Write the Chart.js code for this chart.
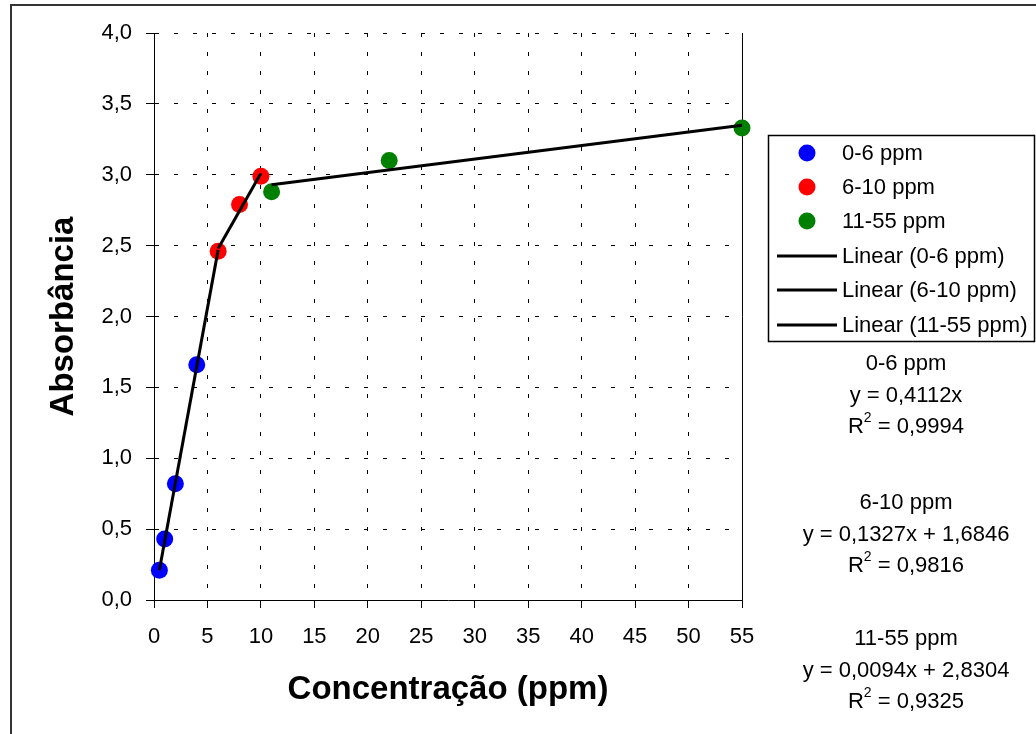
<!DOCTYPE html>
<html>
<head>
<meta charset="utf-8">
<script src="https://cdn.jsdelivr.net/npm/chart.js@4.4.0/dist/chart.umd.min.js"></script>
<style>
  html, body { margin: 0; padding: 0; background: #fff; }
</style>
</head>
<body>
<canvas id="chart" width="1036" height="734"></canvas>
<script>
// series names
const seriesNames = ["0-6 ppm", "6-10 ppm", "11-55 ppm"];
const seriesColors = ["#0000ff", "#ff0000", "#008000"];

// measured points (concentration, absorbance)
const conc06 = [0.5, 1, 2, 4];
const abs06 = [0.21, 0.43, 0.82, 1.66];
const conc610 = [6, 8, 10];
const abs610 = [2.46, 2.79, 2.99];
const conc1155 = [11, 22, 55];
const abs1155 = [2.88, 3.10, 3.33];

// trendline end points
const trendX06 = [0.5, 6];
const trendY06 = [0.21, 2.47];
const trendX610 = [6, 10];
const trendY610 = [2.48, 3.01];
const trendX1155 = [11, 55];
const trendY1155 = [2.93, 3.35];

// equations shown at the right
const eqTexts = ["y = 0,4112x", "y = 0,1327x + 1,6846", "y = 0,0094x + 2,8304"];
const r2Texts = ["0,9994", "0,9816", "0,9325"];

// axis ticks
const xTickValues = [0, 5, 10, 15, 20, 25, 30, 35, 40, 45, 50, 55];
const yTickLabels = ["0,0", "0,5", "1,0", "1,5", "2,0", "2,5", "3,0", "3,5", "4,0"];

const FONT = '"Liberation Sans", Arial, sans-serif';

function toPoints(xs, ys) {
  return xs.map((x, i) => ({ x: x, y: ys[i] }));
}

function pointSet(i, xs, ys) {
  return {
    label: seriesNames[i],
    data: toPoints(xs, ys),
    backgroundColor: seriesColors[i],
    borderColor: seriesColors[i],
    borderWidth: 0,
    pointRadius: 8.5,
    clip: false,
    order: 2
  };
}

function trendSet(i, xs, ys) {
  return {
    label: "Linear (" + seriesNames[i] + ")",
    data: toPoints(xs, ys),
    showLine: true,
    borderColor: "#000",
    borderWidth: 3,
    pointRadius: 0,
    clip: false,
    order: 1
  };
}

// legend, equations and the outer frame
const extras = {
  id: "extras",
  afterDraw(chart) {
    const c = chart.ctx;
    c.save();
    c.setLineDash([]);

    c.strokeStyle = "#333";
    c.lineWidth = 2;
    c.strokeRect(11, 5, 1100, 800);

    c.strokeStyle = "#000";
    c.lineWidth = 1.5;
    c.strokeRect(768.5, 135.5, 266, 206);

    c.font = "22px " + FONT;
    c.textBaseline = "middle";
    c.textAlign = "left";
    const rowY = [153, 187, 221, 256, 290, 325];
    const sets = chart.data.datasets;
    sets.forEach((ds, i) => {
      const y = rowY[i];
      if (ds.showLine) {
        c.strokeStyle = "#000";
        c.lineWidth = 3;
        c.beginPath();
        c.moveTo(777, y);
        c.lineTo(837, y);
        c.stroke();
      } else {
        c.fillStyle = ds.backgroundColor;
        c.beginPath();
        c.arc(807, y, 8.5, 0, Math.PI * 2);
        c.fill();
      }
      c.fillStyle = "#000";
      c.fillText(ds.label, 842, y + 1);
    });

    // equations
    const cx = 906;
    const tops = [364, 503, 639];
    const gap = 31.5;
    c.textAlign = "center";
    c.fillStyle = "#000";
    tops.forEach((t, i) => {
      c.font = "22px " + FONT;
      c.fillText(seriesNames[i], cx, t);
      c.fillText(eqTexts[i], cx, t + gap);
      // R² line
      const y = t + gap * 2;
      const rest = " = " + r2Texts[i];
      c.font = "22px " + FONT;
      const wR = c.measureText("R").width;
      const wRest = c.measureText(rest).width;
      c.font = "14px " + FONT;
      const w2 = c.measureText("2").width;
      let x = cx - (wR + w2 + wRest) / 2;
      c.textAlign = "left";
      c.font = "22px " + FONT;
      c.fillText("R", x, y);
      x += wR;
      c.font = "14px " + FONT;
      c.fillText("2", x, y - 9);
      x += w2;
      c.font = "22px " + FONT;
      c.fillText(rest, x, y);
      c.textAlign = "center";
    });
    c.restore();
  }
};

new Chart(document.getElementById("chart"), {
  type: "scatter",
  data: {
    datasets: [
      pointSet(0, conc06, abs06),
      pointSet(1, conc610, abs610),
      pointSet(2, conc1155, abs1155),
      trendSet(0, trendX06, trendY06),
      trendSet(1, trendX610, trendY610),
      trendSet(2, trendX1155, trendY1155)
    ]
  },
  options: {
    responsive: false,
    animation: false,
    devicePixelRatio: 1,
    layout: { padding: { left: 0, top: 33, right: 294, bottom: 0 } },
    plugins: {
      legend: { display: false },
      tooltip: { enabled: false }
    },
    scales: {
      x: {
        type: "linear",
        min: 0,
        max: 55,
        afterBuildTicks: (scale) => { scale.ticks = xTickValues.map(v => ({ value: v })); },
        afterFit: (scale) => { scale.height = 134; },
        ticks: {
          color: "#000",
          padding: 16,
          font: { size: 22, family: FONT },
          maxRotation: 0
        },
        grid: {
          color: "#000",
          lineWidth: 1,
          tickLength: 8,
          tickColor: "#000"
        },
        border: {
          color: "#000",
          width: 1,
          dash: (ctx) => (ctx.tick && ctx.tick.value === 55) ? [] : [4, 15]
        },
        title: {
          display: true,
          text: "Concentração (ppm)",
          color: "#000",
          font: { size: 33, weight: "bold", family: FONT },
          padding: { top: 0, bottom: 24 }
        }
      },
      y: {
        type: "linear",
        min: 0,
        max: 4,
        afterBuildTicks: (scale) => { scale.ticks = yTickLabels.map((_, i) => ({ value: i * 0.5 })); },
        afterFit: (scale) => { scale.width = 154; },
        ticks: {
          color: "#000",
          padding: 14,
          font: { size: 22, family: FONT },
          callback: (v, i) => yTickLabels[i]
        },
        grid: {
          color: "#000",
          lineWidth: 1,
          tickLength: 8,
          tickColor: "#000"
        },
        border: {
          color: "#000",
          width: 1,
          dash: [4, 15]
        },
        title: {
          display: true,
          text: "Absorbância",
          color: "#000",
          font: { size: 33, weight: "bold", family: FONT },
          padding: { top: 44, bottom: 0 }
        }
      }
    }
  },
  plugins: [extras]
});
</script>
</body>
</html>
